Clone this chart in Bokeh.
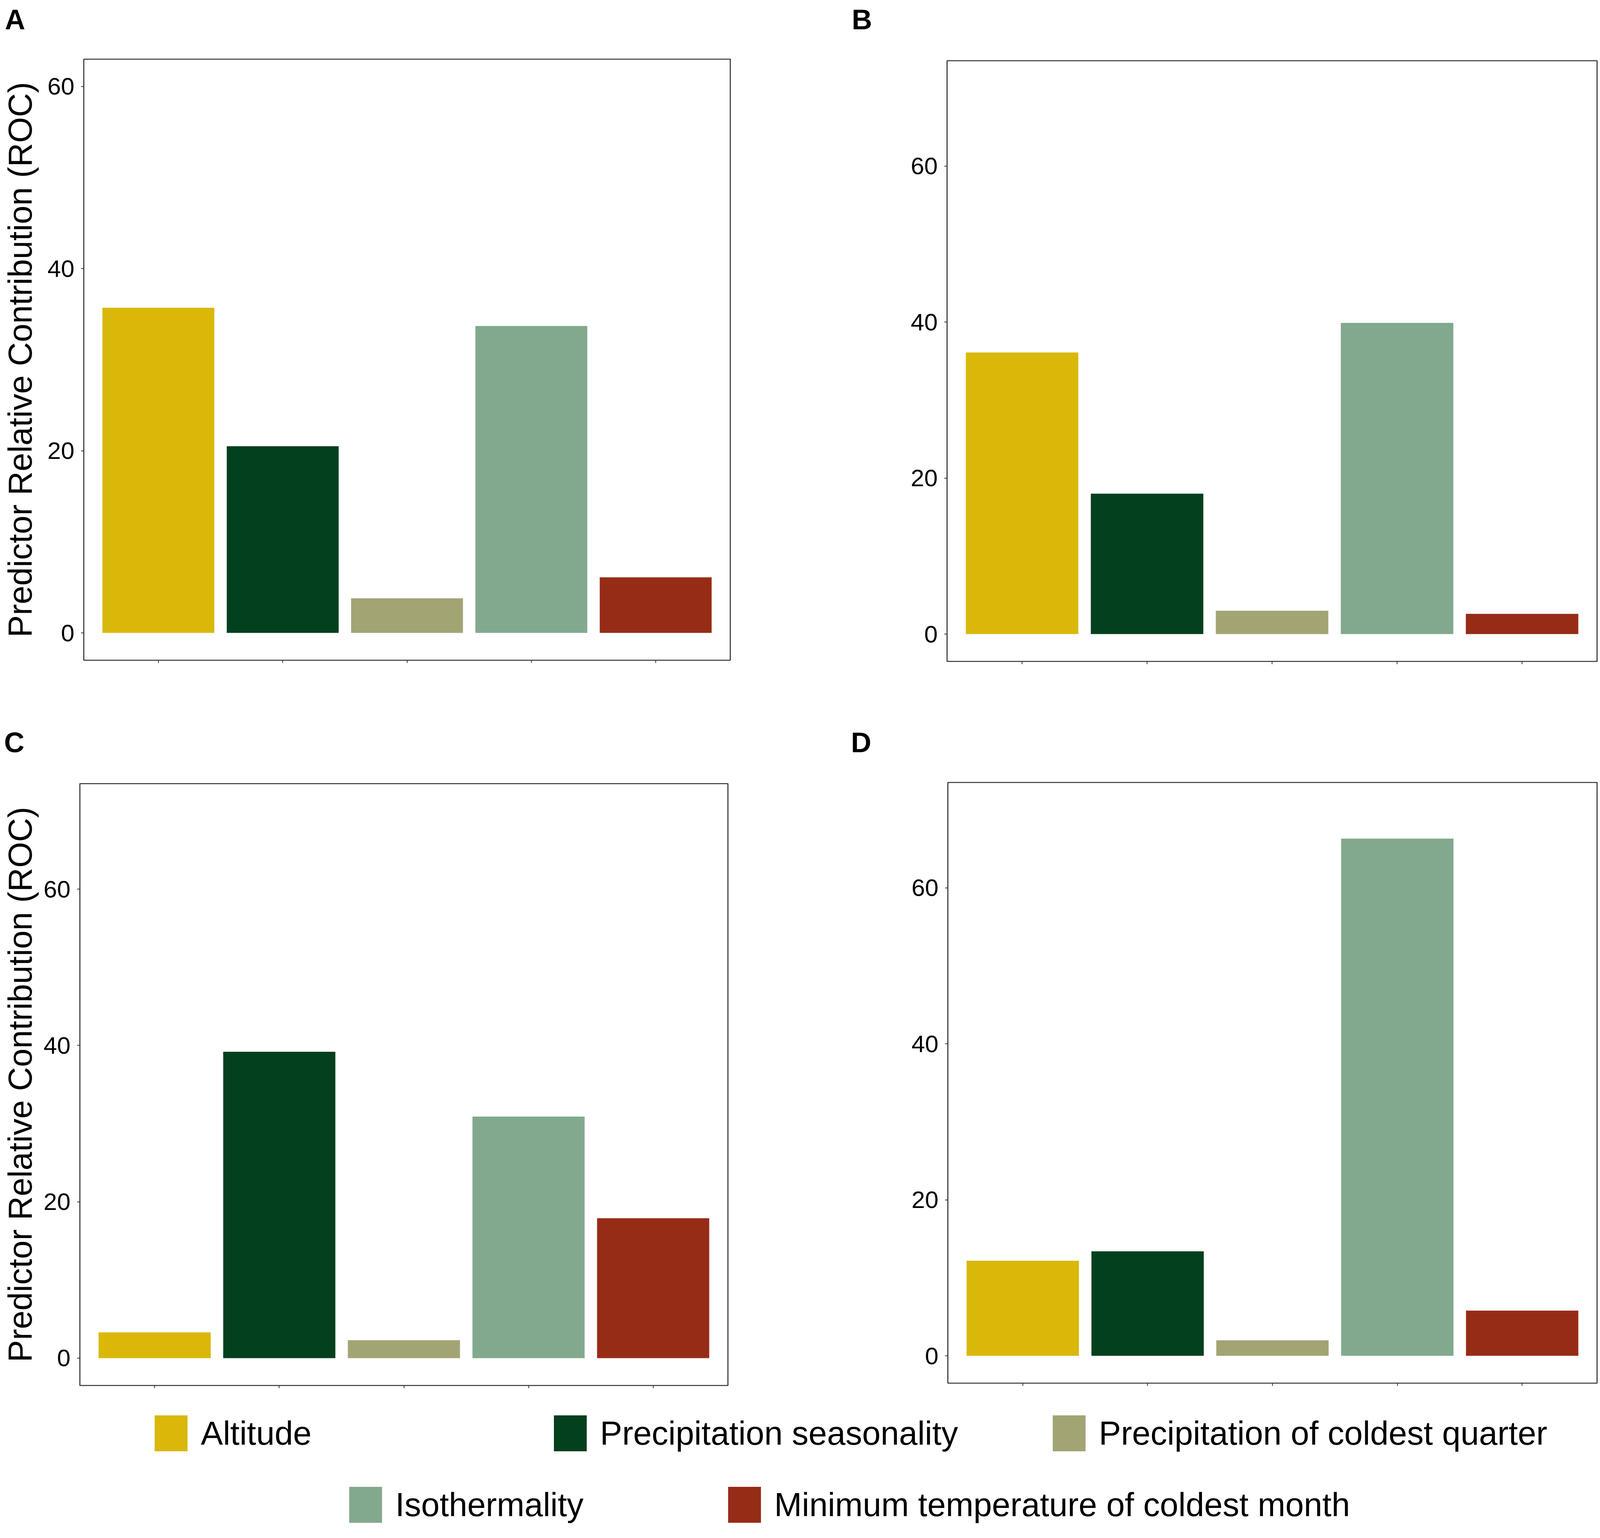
from bokeh.plotting import figure
from bokeh.models import (FactorRange, Range1d, FixedTicker, CustomJSTickFormatter,
                          Legend, LegendItem, ColumnDataSource)
from bokeh.layouts import column, row
from bokeh.embed import file_html
from bokeh.resources import INLINE

# ---------------- data ----------------
categories = ["Altitude", "Precipitation seasonality", "Precipitation of coldest quarter",
              "Isothermality", "Minimum temperature of coldest month"]
colors = ["#D9B80A", "#03401D", "#A3A474", "#82A98D", "#972C16"]

values_A = [35.7, 20.5, 3.8, 33.7, 6.1]
values_B = [36.1, 18.0, 3.0, 39.9, 2.6]
values_C = [3.3, 39.2, 2.3, 30.9, 17.9]
values_D = [12.2, 13.4, 2.0, 66.3, 5.8]

panel_letters = ["A", "B", "C", "D"]
y_limits = [60, 70, 70, 70]
y_ticks = [0, 20, 40, 60]
y_title = "Predictor Relative Contribution (ROC)"

FONT = "Liberation Sans"
EDGE = "#333333"


def make_letter(letter, w, h, offset, standoff):
    f = figure(width=w, height=h, output_backend="svg", toolbar_location=None, tools="",
               x_axis_type=None, y_axis_type=None, title=letter, min_border=0)
    f.grid.visible = False
    f.outline_line_color = None
    f.background_fill_color = "white"
    f.border_fill_color = "white"
    f.title.text_font = FONT
    f.title.text_font_size = "72px"
    f.title.text_font_style = "bold"
    f.title.text_color = "black"
    f.title.align = "left"
    f.title.vertical_align = "bottom"
    f.title.offset = offset
    f.title.standoff = standoff
    return f


def make_panel(vals, ymax, w, h, mbl, mbr, mbt, mbb, ylabel=None, ylabel_standoff=20):
    p = figure(width=w, height=h,
               x_range=FactorRange(factors=categories, range_padding=0.1,
                                   range_padding_units="absolute"),
               y_range=Range1d(-0.05 * ymax, 1.05 * ymax),
               output_backend="svg", toolbar_location=None, tools="")
    p.min_border_left = mbl
    p.min_border_right = mbr
    p.min_border_top = mbt
    p.min_border_bottom = mbb
    p.background_fill_color = "white"
    p.border_fill_color = "white"
    p.outline_line_color = EDGE
    p.outline_line_width = 2.7
    p.grid.visible = False

    src = ColumnDataSource(dict(cat=categories, val=vals, color=colors))
    p.vbar(x="cat", top="val", width=0.9, fill_color="color", line_color=None, source=src)

    # y axis
    ya = p.yaxis[0]
    ya.ticker = FixedTicker(ticks=y_ticks)
    ya.axis_line_color = None
    ya.major_tick_out = 7
    ya.major_tick_in = 0
    ya.major_tick_line_color = EDGE
    ya.major_tick_line_width = 2
    ya.minor_tick_line_color = None
    ya.major_label_text_font = FONT
    ya.major_label_text_font_size = "62px"
    ya.major_label_text_color = "black"
    ya.major_label_standoff = 17
    if ylabel:
        ya.axis_label = ylabel
        ya.axis_label_text_font = FONT
        ya.axis_label_text_font_size = "85px"
        ya.axis_label_text_font_style = "normal"
        ya.axis_label_text_color = "black"
        ya.axis_label_standoff = ylabel_standoff

    # x axis (ticks only, no labels)
    xa = p.xaxis[0]
    xa.axis_line_color = None
    xa.major_tick_out = 7
    xa.major_tick_in = 0
    xa.major_tick_line_color = EDGE
    xa.major_tick_line_width = 2
    xa.formatter = CustomJSTickFormatter(code='return ""')
    xa.major_label_text_font_size = "1px"
    xa.major_label_standoff = 0
    return p


W1, W2 = 2142, 1950

# letter offsets are measured from the (column-aligned) frame left edge
lA = make_letter(panel_letters[0], W1, 147, -202, 14)
lB = make_letter(panel_letters[1], W2, 147, -244, 14)
lC = make_letter(panel_letters[2], W1, 158, -194, 32)
lD = make_letter(panel_letters[3], W2, 158, -248, 32)

pA = make_panel(values_A, y_limits[0], W1, 1695, 208, 273, 4, 152,
                ylabel=y_title, ylabel_standoff=20)
pB = make_panel(values_B, y_limits[1], W2, 1695, 282, 4, 8, 149)
pC = make_panel(values_C, y_limits[2], W1, 1572, 197, 279, 6, 25,
                ylabel=y_title, ylabel_standoff=10)
pD = make_panel(values_D, y_limits[3], W2, 1572, 284, 4, 3, 31)

# ---------------- legend ----------------
pL = figure(width=W1 + W2, height=340,
            x_range=FactorRange(factors=categories), y_range=Range1d(-2, -1),
            output_backend="svg", toolbar_location=None, tools="", min_border=0)
pL.axis.visible = False
pL.grid.visible = False
pL.outline_line_color = None
pL.background_fill_color = "white"
pL.border_fill_color = "white"

leg_src = ColumnDataSource(dict(cat=categories, val=values_A, color=colors))
r_leg = pL.vbar(x="cat", top="val", width=0.9, fill_color="color", line_color=None,
                source=leg_src)
r_leg.visible = False   # only its legend swatches are wanted

legend_locs = [(385, 185), (1407, 185), (2684, 185), (883, 2), (1853, 2)]
for i, (cat, loc) in enumerate(zip(categories, legend_locs)):
    lg = Legend(items=[LegendItem(label=cat, renderers=[r_leg], index=i)], location=loc,
                orientation="horizontal", glyph_width=105, glyph_height=115,
                label_text_font=FONT, label_text_font_size="85px", label_text_color="black",
                label_standoff=24, padding=0, margin=0, spacing=0,
                border_line_color=None, background_fill_alpha=0,
                inactive_fill_alpha=0)
    pL.add_layout(lg)

layout = column(row(column(lA, pA), column(lB, pB)),
                row(column(lC, pC), column(lD, pD)),
                pL)

open("out.html", "w").write(file_html(layout, INLINE))
